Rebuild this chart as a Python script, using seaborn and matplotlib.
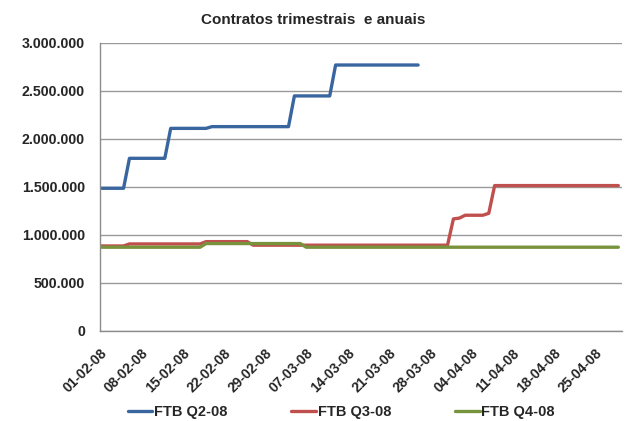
import matplotlib
matplotlib.use('Agg')
import matplotlib.pyplot as plt
import matplotlib.ticker as mticker
import matplotlib.transforms as mtransforms
import seaborn as sns
import pandas as pd

# daily values, 01-02-08 onwards
ftb_q2 = [
    1486000, 1486000, 1486000, 1486000, 1486000,
    1798000, 1798000, 1798000, 1798000, 1798000, 1798000, 1798000,
    2110000, 2110000, 2110000, 2110000, 2110000, 2110000, 2110000,
    2128000, 2128000, 2128000, 2128000, 2128000, 2128000, 2128000,
    2128000, 2128000, 2128000, 2128000, 2128000, 2128000, 2128000,
    2448000, 2448000, 2448000, 2448000, 2448000, 2448000, 2448000,
    2770000, 2770000, 2770000, 2770000, 2770000, 2770000, 2770000, 2770000,
    2770000, 2770000, 2770000, 2770000, 2770000, 2770000, 2770000,
]
ftb_q3 = [
    885000, 885000, 885000, 885000, 885000,
    906000, 906000, 906000, 906000, 906000, 906000, 906000,
    906000, 906000, 906000, 906000, 906000, 906000,
    930000, 930000, 930000, 930000, 930000, 930000, 930000, 930000,
    893000, 893000, 893000, 893000, 893000, 893000, 893000, 893000, 893000,
    893000, 893000, 893000, 893000, 893000, 893000, 893000, 893000, 893000,
    893000, 893000, 893000, 893000, 893000, 893000, 893000, 893000, 893000,
    893000, 893000, 893000, 893000, 893000, 893000, 893000,
    1167000, 1175000,
    1205000, 1205000, 1205000, 1205000,
    1225000,
    1514000, 1514000, 1514000, 1514000, 1514000, 1514000, 1514000, 1514000,
    1514000, 1514000, 1514000, 1514000, 1514000, 1514000, 1514000, 1514000,
    1514000, 1514000, 1514000, 1514000, 1514000, 1514000,
]
ftb_q4 = [
    872000, 872000, 872000, 872000, 872000, 872000, 872000, 872000, 872000,
    872000, 872000, 872000, 872000, 872000, 872000, 872000, 872000, 872000,
    910000, 910000, 910000, 910000, 910000, 910000, 910000, 910000, 910000,
    910000, 910000, 910000, 910000, 910000, 910000, 910000, 910000,
    872000, 872000, 872000, 872000, 872000, 872000, 872000, 872000, 872000,
    872000, 872000, 872000, 872000, 872000, 872000, 872000, 872000, 872000,
    872000, 872000, 872000, 872000, 872000, 872000, 872000, 872000, 872000,
    872000, 872000, 872000, 872000, 872000, 872000, 872000, 872000, 872000,
    872000, 872000, 872000, 872000, 872000, 872000, 872000, 872000, 872000,
    872000, 872000, 872000, 872000, 872000, 872000, 872000, 872000, 872000,
]
series_names = ['FTB Q2-08', 'FTB Q3-08', 'FTB Q4-08']
tick_labels = ['01-02-08', '08-02-08', '15-02-08', '22-02-08', '29-02-08', '07-03-08',
               '14-03-08', '21-03-08', '28-03-08', '04-04-08', '11-04-08', '18-04-08',
               '25-04-08']
y_ticks = [0, 500000, 1000000, 1500000, 2000000, 2500000, 3000000]

colors = {'FTB Q2-08': '#3A66A0', 'FTB Q3-08': '#C0504D', 'FTB Q4-08': '#77933C'}

dates = pd.date_range('2008-02-01', periods=len(ftb_q3), freq='D')
frames = []
for name, vals in zip(series_names, [ftb_q2, ftb_q3, ftb_q4]):
    frames.append(pd.DataFrame({'data': dates[:len(vals)], 'valor': vals, 'serie': name}))
df = pd.concat(frames, ignore_index=True)

sns.set_theme(style='white')
plt.rcParams['font.family'] = ['Liberation Sans', 'DejaVu Sans']

fig = plt.figure(figsize=(6.25, 4.21), dpi=100)
ax = fig.add_axes([0.16, 0.214, 0.835, 0.684])

sns.lineplot(data=df, x='data', y='valor', hue='serie', palette=colors,
             linewidth=2.4, ax=ax, legend=False)

ax.set_ylim(0, 3000000)
ax.set_xlim(dates[0], dates[0] + pd.Timedelta(days=88.6))
ax.set_yticks(y_ticks)
ax.yaxis.set_major_formatter(mticker.FuncFormatter(lambda v, p: f'{int(v):,}'.replace(',', '.')))
ax.yaxis.grid(True, color='#9A9A9A', linewidth=1.0)
ax.set_axisbelow(True)

tick_dates = pd.to_datetime(tick_labels, format='%d-%m-%y')
ax.set_xticks(tick_dates)
ax.set_xticklabels(tick_labels, rotation=45, ha='right', va='top',
                   rotation_mode='anchor', fontsize=10, fontweight='bold')
shift = mtransforms.ScaledTranslation(-0.035, 0, fig.dpi_scale_trans)
for lbl in ax.get_xticklabels():
    lbl.set_transform(lbl.get_transform() + shift)
for lbl in ax.get_yticklabels():
    lbl.set_fontsize(10.2)
    lbl.set_fontweight('bold')
ax.tick_params(axis='x', pad=11, length=0)
ax.tick_params(axis='y', pad=10.8, length=0)

for side in ['top', 'right']:
    ax.spines[side].set_visible(False)
for side in ['left', 'bottom']:
    ax.spines[side].set_color('#8C8C8C')
    ax.spines[side].set_linewidth(1.0)

ax.set_xlabel('')
ax.set_ylabel('')
fig.text(0.501, 0.952, 'Contratos trimestrais  e anuais', ha='center', va='center',
         fontsize=11, fontweight='bold')

handles = [plt.Line2D([], [], color=colors[n], linewidth=2.4) for n in series_names]
fig.legend(handles, series_names, loc='center', bbox_to_anchor=(0.546, 0.022), ncol=3,
           frameon=False, handlelength=1.7, handletextpad=0.1, columnspacing=4.4,
           prop={'size': 10.5, 'weight': 'bold'})

fig.savefig('out.png', dpi=100)
